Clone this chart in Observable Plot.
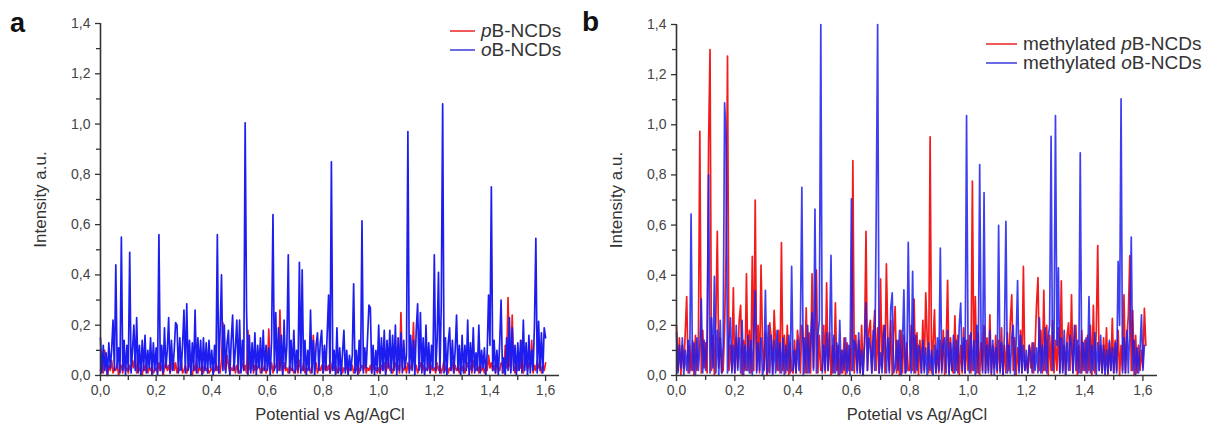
<!DOCTYPE html>
<html>
<head>
<meta charset="utf-8">
<script src="https://cdn.jsdelivr.net/npm/d3@7"></script>
<script src="https://cdn.jsdelivr.net/npm/@observablehq/plot@0.6"></script>
<style>
  html, body { margin: 0; padding: 0; background: #fff; }
  #root { position: relative; width: 1212px; height: 430px; font-family: "Liberation Sans", Arial, sans-serif; color: #333; overflow: hidden; }
  .panel { position: absolute; top: 0; }
  .letter { position: absolute; font-weight: bold; line-height: 1; color: #111; }
  .legend { position: absolute; font-size: 19px; line-height: 19px; color: #333; }
  .legend .row { display: flex; align-items: center; height: 19px; white-space: nowrap; }
  .legend .sw { display: inline-block; height: 2px; margin-right: 6px; }
</style>
</head>
<body>
<div id="root">
  <div class="panel" id="pa" style="left:0px"></div>
  <div class="panel" id="pb" style="left:576px"></div>
  <div class="letter" style="left:10px; top:10px; font-size:27px">a</div>
  <div class="letter" style="left:582px; top:8px; font-size:28px">b</div>
  <div class="legend" style="left:450px; top:21px">
    <div class="row"><span class="sw" style="width:25px;background:#ef5b5b"></span><span><i>p</i>B-NCDs</span></div>
    <div class="row"><span class="sw" style="width:25px;background:#6b6be6"></span><span><i>o</i>B-NCDs</span></div>
  </div>
  <div class="legend" style="left:986px; top:34px">
    <div class="row"><span class="sw" style="width:31px;background:#ef5b5b"></span><span>methylated <i>p</i>B-NCDs</span></div>
    <div class="row"><span class="sw" style="width:31px;background:#6b6be6"></span><span>methylated <i>o</i>B-NCDs</span></div>
  </div>
</div>
<script>
// ---- data (sampled every xStep V starting at x0) ----
const x0 = 0;
const xStep = 0.005;

const pB_a = [
0.02,0.05,0.01,0.1,0.03,0.0,0.04,0.02,0.06,0.01,0.03,0.02,0.05,0.0,0.03,0.04,0.01,0.06,0.02,0.03,
0.01,0.04,0.02,0.06,0.03,0.08,0.01,0.05,0.02,0.03,0.0,0.04,0.02,0.05,0.01,0.03,0.02,0.04,0.01,0.02,
0.03,0.01,0.05,0.02,0.04,0.0,0.03,0.06,0.02,0.04,0.01,0.03,0.08,0.02,0.05,0.01,0.03,0.02,0.06,0.01,
0.02,0.04,0.01,0.03,0.05,0.02,0.0,0.04,0.02,0.06,0.01,0.03,0.02,0.05,0.01,0.04,0.02,0.03,0.01,0.02,
0.03,0.01,0.02,0.05,0.02,0.04,0.01,0.06,0.21,0.03,0.02,0.08,0.04,0.01,0.03,0.02,0.05,0.01,0.04,0.02,
0.01,0.03,0.05,0.02,0.04,0.01,0.18,0.03,0.02,0.06,0.01,0.04,0.02,0.03,0.05,0.01,0.03,0.02,0.04,0.01,
0.03,0.185,0.02,0.05,0.01,0.04,0.03,0.06,0.02,0.26,0.04,0.01,0.05,0.02,0.03,0.01,0.04,0.02,0.03,0.01,
0.02,0.04,0.01,0.06,0.03,0.02,0.05,0.01,0.03,0.02,0.04,0.01,0.03,0.16,0.02,0.05,0.01,0.03,0.02,0.04,
0.01,0.03,0.05,0.02,0.04,0.01,0.03,0.06,0.02,0.04,0.01,0.03,0.02,0.05,0.01,0.03,0.02,0.04,0.01,0.03,
0.02,0.04,0.01,0.03,0.02,0.05,0.01,0.03,0.04,0.02,0.06,0.01,0.03,0.02,0.04,0.01,0.05,0.02,0.03,0.01,
0.03,0.01,0.04,0.02,0.05,0.01,0.03,0.06,0.02,0.04,0.01,0.03,0.05,0.02,0.04,0.01,0.25,0.03,0.02,0.04,
0.01,0.05,0.02,0.03,0.06,0.21,0.02,0.04,0.01,0.03,0.05,0.02,0.04,0.01,0.03,0.02,0.05,0.01,0.04,0.02,
0.03,0.01,0.05,0.02,0.04,0.01,0.03,0.06,0.02,0.04,0.01,0.03,0.02,0.05,0.01,0.04,0.02,0.03,0.01,0.05,
0.02,0.04,0.01,0.03,0.05,0.02,0.04,0.01,0.06,0.03,0.02,0.04,0.01,0.05,0.02,0.03,0.01,0.04,0.02,0.08,
0.03,0.05,0.02,0.04,0.01,0.06,0.03,0.02,0.05,0.04,0.01,0.12,0.03,0.31,0.05,0.02,0.24,0.04,0.01,0.06,
0.02,0.05,0.03,0.14,0.01,0.04,0.06,0.02,0.05,0.03,0.14,0.01,0.04,0.02,0.06,0.03,0.05,0.01,0.04,0.02,
0.05];

const oB_a = [
0.15,0.01,0.12,0.02,0.09,0.0,0.13,0.03,0.1,0.22,0.02,0.44,0.03,0.11,0.01,0.55,0.02,0.14,0.0,0.12,
0.02,0.49,0.01,0.1,0.2,0.02,0.23,0.01,0.12,0.0,0.14,0.02,0.16,0.01,0.1,0.03,0.15,0.0,0.13,0.02,
0.11,0.0,0.56,0.02,0.12,0.01,0.19,0.03,0.1,0.23,0.01,0.14,0.02,0.1,0.21,0.2,0.01,0.15,0.02,0.12,
0.26,0.01,0.285,0.02,0.14,0.0,0.13,0.02,0.26,0.01,0.15,0.03,0.14,0.0,0.15,0.02,0.13,0.01,0.14,0.03,
0.1,0.0,0.12,0.02,0.56,0.01,0.18,0.4,0.02,0.2,0.01,0.13,0.18,0.0,0.14,0.24,0.02,0.11,0.22,0.01,
0.22,0.01,0.14,0.02,1.005,0.26,0.0,0.16,0.01,0.13,0.02,0.17,0.0,0.12,0.03,0.15,0.01,0.18,0.02,0.12,
0.02,0.11,0.0,0.14,0.64,0.02,0.25,0.01,0.19,0.02,0.16,0.0,0.22,0.03,0.12,0.48,0.01,0.14,0.02,0.18,
0.01,0.1,0.02,0.45,0.01,0.42,0.02,0.14,0.0,0.1,0.02,0.26,0.01,0.14,0.0,0.12,0.17,0.02,0.13,0.18,
0.01,0.12,0.02,0.17,0.32,0.01,0.85,0.02,0.1,0.0,0.19,0.01,0.11,0.0,0.09,0.18,0.01,0.1,0.0,0.08,
0.02,0.08,0.365,0.01,0.1,0.0,0.14,0.02,0.615,0.01,0.11,0.03,0.15,0.28,0.27,0.01,0.12,0.0,0.1,0.02,
0.2,0.01,0.15,0.02,0.18,0.0,0.14,0.03,0.18,0.01,0.16,0.02,0.2,0.0,0.15,0.02,0.17,0.01,0.14,0.03,
0.08,0.97,0.01,0.16,0.02,0.14,0.0,0.18,0.285,0.02,0.25,0.01,0.15,0.0,0.2,0.02,0.13,0.01,0.12,0.03,
0.48,0.02,0.14,0.41,0.01,0.28,1.08,0.01,0.15,0.0,0.13,0.19,0.02,0.14,0.01,0.1,0.24,0.02,0.12,0.0,
0.16,0.01,0.12,0.02,0.22,0.0,0.13,0.02,0.19,0.01,0.09,0.02,0.2,0.01,0.1,0.03,0.11,0.0,0.09,0.32,
0.12,0.75,0.02,0.14,0.01,0.1,0.0,0.13,0.3,0.01,0.07,0.0,0.15,0.02,0.23,0.01,0.19,0.02,0.12,0.0,
0.13,0.02,0.14,0.01,0.22,0.02,0.13,0.0,0.16,0.01,0.1,0.02,0.2,0.545,0.01,0.215,0.02,0.17,0.01,0.19,
0.15];

const pB_b = [
0.2,0.02,0.15,0.0,0.12,0.03,0.17,0.315,0.01,0.12,0.02,0.14,0.0,0.16,0.02,0.11,0.974,0.01,0.18,0.03,
0.13,0.01,0.918,1.3,0.02,0.16,0.0,0.22,0.575,0.03,0.15,0.01,0.02,0.19,0.49,1.274,0.02,0.12,0.02,0.35,
0.01,0.15,0.03,0.22,0.28,0.0,0.14,0.02,0.405,0.02,0.18,0.01,0.475,0.02,0.7,0.02,0.2,0.01,0.44,0.13,
0.02,0.17,0.0,0.02,0.21,0.14,0.01,0.26,0.12,0.02,0.18,0.01,0.53,0.02,0.16,0.01,0.2,0.0,0.13,0.02,
0.01,0.14,0.01,0.18,0.12,0.01,0.2,0.13,0.01,0.27,0.01,0.17,0.01,0.405,0.03,0.21,0.42,0.01,0.16,0.02,
0.02,0.2,0.01,0.37,0.02,0.17,0.0,0.12,0.01,0.29,0.02,0.12,0.0,0.1,0.01,0.15,0.0,0.13,0.02,0.11,
0.02,0.857,0.01,0.16,0.02,0.14,0.01,0.2,0.0,0.13,0.575,0.02,0.18,0.22,0.01,0.15,0.26,0.02,0.19,0.01,
0.385,0.03,0.2,0.01,0.445,0.15,0.02,0.22,0.0,0.17,0.275,0.01,0.14,0.0,0.18,0.01,0.16,0.01,0.13,0.02,
0.02,0.2,0.02,0.305,0.01,0.17,0.0,0.14,0.01,0.22,0.02,0.33,0.15,0.01,0.952,0.01,0.12,0.262,0.01,0.1,
0.01,0.14,0.02,0.18,0.0,0.12,0.38,0.01,0.15,0.02,0.01,0.238,0.02,0.16,0.0,0.12,0.01,0.19,0.01,0.14,
0.02,0.16,0.01,0.775,0.02,0.315,0.01,0.17,0.0,0.13,0.02,0.2,0.01,0.15,0.02,0.242,0.0,0.12,0.03,0.16,
0.01,0.14,0.02,0.19,0.0,0.12,0.01,0.17,0.02,0.21,0.322,0.02,0.15,0.0,0.11,0.02,0.18,0.01,0.435,0.02,
0.06,0.01,0.12,0.03,0.13,0.01,0.11,0.28,0.39,0.02,0.18,0.01,0.34,0.02,0.2,0.0,0.16,0.02,0.22,0.01,
0.14,0.02,0.19,0.01,0.378,0.02,0.12,0.0,0.16,0.21,0.02,0.322,0.01,0.15,0.2,0.0,0.12,0.01,0.18,0.02,
0.14,0.01,0.16,0.02,0.2,0.0,0.28,0.01,0.18,0.518,0.02,0.12,0.01,0.15,0.02,0.19,0.0,0.13,0.02,0.228,
0.01,0.14,0.02,0.18,0.0,0.12,0.02,0.322,0.01,0.15,0.24,0.478,0.02,0.26,0.0,0.16,0.01,0.12,0.02,0.1,
0.03,0.268,0.12];

const oB_b = [
0.17,0.01,0.12,0.03,0.15,0.0,0.1,0.02,0.14,0.01,0.644,0.02,0.13,0.0,0.15,0.02,0.11,0.306,0.01,0.14,
0.02,0.15,0.8,0.01,0.23,0.03,0.395,0.01,0.18,0.0,0.22,0.01,0.12,1.087,0.96,0.01,0.14,0.23,0.01,0.12,
0.01,0.2,0.02,0.15,0.01,0.22,0.0,0.12,0.02,0.16,0.01,0.14,0.0,0.17,0.338,0.01,0.13,0.02,0.15,0.0,
0.03,0.34,0.01,0.2,0.01,0.16,0.0,0.14,0.01,0.18,0.02,0.13,0.01,0.15,0.0,0.12,0.02,0.16,0.01,0.435,
0.02,0.1,0.01,0.14,0.02,0.19,0.75,0.0,0.15,0.01,0.2,0.01,0.13,0.25,0.02,0.664,0.01,0.16,0.22,1.4,
0.01,0.12,0.02,0.17,0.02,0.14,0.479,0.01,0.16,0.01,0.13,0.0,0.22,0.01,0.1,0.02,0.15,0.01,0.12,0.0,
0.705,0.02,0.14,0.12,0.01,0.17,0.01,0.1,0.0,0.13,0.29,0.02,0.15,0.11,0.01,0.18,0.02,0.625,1.4,0.01,
0.09,0.01,0.16,0.2,0.01,0.15,0.01,0.27,0.33,0.01,0.03,0.14,0.02,0.18,0.0,0.12,0.342,0.01,0.02,0.531,
0.13,0.01,0.415,0.01,0.16,0.02,0.12,0.1,0.01,0.14,0.01,0.11,0.0,0.13,0.02,0.1,0.0,0.12,0.01,0.15,
0.02,0.508,0.01,0.12,0.15,0.01,0.18,0.0,0.13,0.02,0.16,0.01,0.14,0.01,0.2,0.289,0.02,0.15,0.01,1.037,
0.12,0.01,0.17,0.02,0.14,0.0,0.2,0.01,0.841,0.13,0.01,0.73,0.01,0.12,0.01,0.18,0.01,0.14,0.0,0.11,
0.02,0.599,0.01,0.13,0.0,0.17,0.615,0.01,0.12,0.01,0.15,0.2,0.0,0.13,0.379,0.01,0.16,0.01,0.12,0.02,
0.1,0.01,0.12,0.09,0.01,0.13,0.02,0.11,0.01,0.23,0.01,0.12,0.02,0.19,0.01,0.15,0.2,0.954,0.02,0.14,
1.037,0.12,0.429,0.01,0.15,0.01,0.18,0.0,0.13,0.02,0.16,0.12,0.01,0.2,0.02,0.14,0.01,0.888,0.01,0.13,
0.02,0.15,0.01,0.315,0.01,0.12,0.02,0.17,0.0,0.13,0.02,0.16,0.01,0.12,0.0,0.1,0.01,0.14,0.02,0.11,
0.01,0.13,0.01,0.455,0.2,1.103,0.01,0.15,0.01,0.18,0.01,0.2,0.552,0.02,0.14,0.0,0.11,0.01,0.1,0.242,
0.02,0.12];

const xTicks = [0, 0.2, 0.4, 0.6, 0.8, 1.0, 1.2, 1.4, 1.6];
const xMinor = [0.1, 0.3, 0.5, 0.7, 0.9, 1.1, 1.3, 1.5];
const yTicks = [0, 0.2, 0.4, 0.6, 0.8, 1.0, 1.2, 1.4];
const yMinor = [0.1, 0.3, 0.5, 0.7, 0.9, 1.1, 1.3];
const xDomain = [0, 1.65];
const yDomain = [0, 1.4];
const xTitleA = "Potential vs Ag/AgCl";
const xTitleB = "Potetial vs Ag/AgCl";
const yTitle = "Intensity a.u.";

// ---- drawing ----
const RED = "#f31b1b";
const BLUE = "#1d1df0";
const AX = "#333";
const fmt = d => d.toFixed(1).replace(".", ",");
const xOf = (d, i) => x0 + i * xStep;

function panel({red, blue, width, marginTop, marginRight, xTitle, blueOpacity}) {
  return Plot.plot({
    width, height: 430,
    marginLeft: 100, marginRight, marginTop, marginBottom: 55,
    style: {fontFamily: '"Liberation Sans", Arial, sans-serif', fontSize: "14px", color: AX, background: "white", overflow: "visible"},
    x: {domain: xDomain},
    y: {domain: yDomain},
    marks: [
      Plot.lineY(red, {x: xOf, y: d => d, stroke: RED, strokeWidth: 1.7}),
      Plot.lineY(blue, {x: xOf, y: d => d, stroke: BLUE, strokeWidth: 1.7, strokeOpacity: blueOpacity}),
      Plot.ruleY([0], {stroke: AX, strokeWidth: 1.6}),
      Plot.ruleX([0], {stroke: AX, strokeWidth: 1.6}),
      Plot.axisX(xTicks, {tickSize: 6, tickPadding: 4, tickFormat: fmt, stroke: AX, strokeWidth: 1.3, fontSize: 14, fill: "#444", label: null}),
      Plot.axisX(xMinor, {tickSize: 5, text: null, stroke: AX, strokeWidth: 1.3, label: null}),
      Plot.axisY(yTicks, {tickSize: 5, tickPadding: 5, tickFormat: fmt, stroke: AX, strokeWidth: 1.3, fontSize: 14, fill: "#444", label: null}),
      Plot.axisY(yMinor, {tickSize: 4, text: null, stroke: AX, strokeWidth: 1.3, label: null}),
      Plot.text([xTitle], {frameAnchor: "bottom", dy: 39, fontSize: 16.5, fill: "#333", lineAnchor: "middle", textAnchor: "middle"}),
      Plot.text([yTitle], {frameAnchor: "left", dx: -60, rotate: -90, fontSize: 17, fill: "#333", lineAnchor: "middle", textAnchor: "middle"})
    ]
  });
}

document.getElementById("pa").append(panel({red: pB_a, blue: oB_a, width: 600, marginTop: 23, marginRight: 41, xTitle: xTitleA, blueOpacity: 1}));
document.getElementById("pb").append(panel({red: pB_b, blue: oB_b, width: 636, marginTop: 24, marginRight: 55, xTitle: xTitleB, blueOpacity: 0.85}));
</script>
</body>
</html>
